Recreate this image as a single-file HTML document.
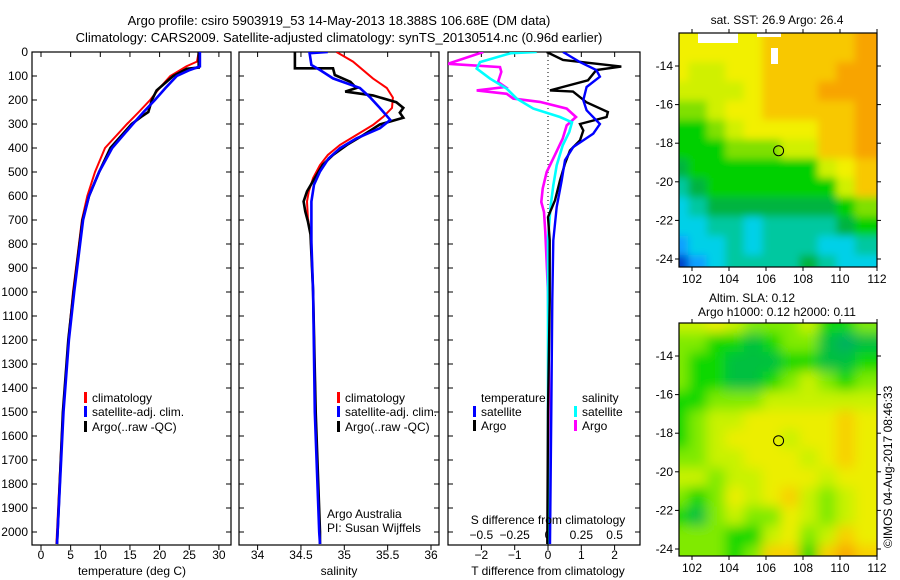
<!DOCTYPE html>
<html><head><meta charset="utf-8"><style>
body{margin:0;background:#fff;}
svg{display:block;font-family:"Liberation Sans",sans-serif;}
text{font-size:12px;fill:#000;}
</style></head><body>
<svg id="c" width="900" height="580" viewBox="0 0 900 580">
<defs>
<clipPath id="cp1"><rect x="32" y="52" width="199" height="493"/></clipPath>
<clipPath id="cp2"><rect x="239" y="52" width="200" height="493"/></clipPath>
<clipPath id="cp3"><rect x="448" y="52" width="192" height="493"/></clipPath>
<clipPath id="cm1"><rect x="679" y="33" width="198" height="234"/></clipPath>
<clipPath id="cm2"><rect x="679" y="323" width="198" height="233"/></clipPath>
<filter id="bl" x="-10%" y="-10%" width="120%" height="120%"><feGaussianBlur stdDeviation="6"/></filter>
<filter id="bl2" x="-10%" y="-10%" width="120%" height="120%"><feGaussianBlur stdDeviation="4"/></filter>
</defs>
<text x="339" y="25" text-anchor="middle" style="font-size:13px">Argo profile: csiro 5903919_53 14-May-2013 18.388S 106.68E (DM data)</text>
<text x="339" y="42" text-anchor="middle" style="font-size:13px">Climatology: CARS2009. Satellite-adjusted climatology: synTS_20130514.nc (0.96d earlier)</text>
<g id="g1"></g>
<g id="g2"></g>
<g id="g3"></g>
<g id="m1"></g>
<g id="m2"></g>
<text x="339" y="575" text-anchor="middle">salinity</text>
<text x="132" y="575" text-anchor="middle">temperature (deg C)</text>
<text x="548" y="575" text-anchor="middle">T difference from climatology</text>
<text x="548" y="524" text-anchor="middle">S difference from climatology</text>
<text x="777" y="24" text-anchor="middle">sat. SST: 26.9 Argo: 26.4</text>
<text x="752" y="302" text-anchor="middle">Altim. SLA: 0.12</text>
<text x="777" y="316" text-anchor="middle">Argo h1000: 0.12 h2000: 0.11</text>
<text transform="translate(892,548) rotate(-90)">©IMOS 04-Aug-2017 08:46:33</text>
<text x="327" y="518">Argo Australia</text>
<text x="327" y="532">PI: Susan Wijffels</text>
</svg>
<script>
// ---- data ----
const depthTicks=[0,100,200,300,400,500,600,700,800,900,1000,1100,1200,1300,1400,1500,1600,1700,1800,1900,2000];
const tTicks=[0,5,10,15,20,25,30];
const sTicks=[34,34.5,35,35.5,36];
const sTickLabels=["34","34.5","35","35.5","36"];
const tdTicks=[-2,-1,0,1,2];
const sdTicks=[-0.5,-0.25,0,0.25,0.5];
const sdTickLabels=["\u22120.5","\u22120.25","0","0.25","0.5"];
const tdTickLabels=["\u22122","\u22121","0","1","2"];

const tClimD=[0,40,60,75,100,150,200,250,300,400,500,600,700,800,1000,1200,1500,2000,2050];
const tClim=[26.6,26.3,24.5,23.5,21.8,20,18.4,16.5,14.5,10.8,9.1,7.8,6.9,6.4,5.4,4.6,3.7,2.7,2.6];
const tSatD=[0,40,60,75,100,150,200,250,300,400,500,600,700,800,1000,1200,1500,2000,2050];
const tSat=[26.8,26.8,26.8,25.1,22.9,21,19.2,17.3,15.5,12,9.8,8.1,7.1,6.6,5.6,4.7,3.8,2.8,2.7];
const tArgoD=[0,65,70,100,160,170,200,250,270,300,400,500,600,700,800,1000,1200,1500,2000,2050];
const tArgo=[26.6,26.6,24.6,22.3,19.5,19.3,18.7,18.1,16.9,15.3,11.7,9.8,8.1,7.0,6.5,5.5,4.6,3.7,2.8,2.7];

const sClimD=[0,40,110,150,190,233,270,304,346,387,429,471,525,581,623,692,762,1000,1500,2000,2050];
const sClim=[34.91,35.10,35.33,35.49,35.56,35.55,35.45,35.33,35.14,34.95,34.81,34.72,34.64,34.59,34.57,34.58,34.61,34.64,34.67,34.71,34.72];
const sSatD=[0,5,54,75,110,150,190,233,283,318,360,401,443,498,553,623,692,790,1000,1500,2000,2050];
const sSat=[34.81,34.6,34.62,34.72,34.87,35.18,35.3,35.41,35.53,35.41,35.14,34.95,34.82,34.72,34.65,34.62,34.62,34.62,34.64,34.66,34.71,34.72];
const sArgoD=[0,68,68,96,124,150,165,181,209,233,253,274,302,346,387,429,471,525,581,623,665,706,760,1000,1500,2000,2050];
const sArgo=[34.43,34.43,34.87,34.89,35.07,35.14,35.01,35.33,35.6,35.68,35.64,35.68,35.41,35.22,35.03,34.87,34.75,34.66,34.57,34.53,34.55,34.58,34.61,34.64,34.67,34.72,34.72];

const dTArgoD=[0,33,61,75,118,160,165,210,250,271,300,327,368,410,465,535,618,688,785,1035,1500,2050];
const dTArgo=[-0.04,0.45,2.2,1.45,1.2,0.06,0.75,1.16,1.8,1.76,0.96,1.06,0.96,0.66,0.51,0.36,0.21,0,0.05,0.05,0.0,-0.02];
const dTSatD=[0,42,75,103,146,201,243,300,340,396,451,535,646,785,1035,1500,2050];
const dTSat=[0.45,0.96,1.45,1.56,1.16,1.06,1.16,1.56,1.36,0.76,0.51,0.41,0.26,0.16,0.13,0.1,0.06];
const dSArgoD=[0,49,63,83,125,146,160,174,194,208,236,271,306,361,431,500,569,625,667,750,1000,1500,2050];
const dSArgo=[-0.485,-0.75,-0.36,-0.35,-0.375,-0.32,-0.535,-0.31,-0.26,-0.06,0.14,0.21,0.14,0.11,0.05,-0.01,-0.04,-0.05,-0.03,-0.02,0,0.01,0.01];
const dSSatD=[0,5,42,69,111,153,194,236,271,293,333,389,472,556,640,778,1000,2050];
const dSSat=[-0.085,-0.28,-0.51,-0.535,-0.435,-0.31,-0.235,-0.11,0.09,0.18,0.16,0.11,0.065,0.04,0.02,0,0,0];

const mapLons=[101,102,103,104,105,106,107,108,109,110,111];
const mapLats=[12,13,14,15,16,17,18,19,20,21,22,23,24];
const sstGrid=[
[8,8,8,8,8,9,9,9,9,9,10],
[8,8,8,8,8,9,9,9,9,9,10],
[8,7,7,8,8,9,9,9,9,10,10],
[7,7,7,7,8,9,9,9,10,10,10],
[6,6,7,8,8,9,9,9,9,9,10],
[5,5,6,7,8,8,8,8,9,9,10],
[5,5,5,6,6,6,7,7,9,9,10],
[4,5,5,5,5,5,5,5,7,8,9],
[3,4,5,5,5,5,5,5,5,7,9],
[2,3,4,4,4,4,4,4,4,5,6],
[2,2,3,3,2,3,3,3,3,4,5],
[1,2,2,3,2,3,3,3,2,2,3],
[0,1,2,3,3,3,3,4,3,2,2]];
const slaGrid=[
[7,7,8,7,6,6,6,7,5,5,6],
[6,6,5,5,4,5,6,6,4,3,4],
[6,5,5,4,4,4,5,5,4,4,5],
[6,5,5,4,4,5,6,7,6,5,6],
[5,5,6,6,6,7,7,7,7,7,7],
[5,6,7,7,8,8,8,8,8,9,8],
[5,6,7,8,8,8,7,8,8,9,8],
[6,6,7,7,8,8,8,7,8,9,8],
[7,7,6,7,7,8,8,8,7,8,8],
[6,5,6,8,7,8,9,7,6,7,8],
[5,4,6,7,6,6,8,7,6,7,8],
[6,6,6,5,5,7,8,6,7,9,8],
[6,6,6,5,6,9,9,5,9,10,9]];
const mapLonTicks=[102,104,106,108,110,112];
const mapLatTicks=[14,16,18,20,22,24];
const argoLon=106.68, argoLat=18.388;

// ---- scales ----
const NS="http://www.w3.org/2000/svg";
const yD=d=>52+d*0.24;
const xT=t=>41+t*5.93;
const xS=s=>257.6+(s-34)*86.7;
const xTd=v=>548+v*33.3;
const xSd=v=>548+v*133.3;
const mx=l=>692+(l-102)*18.5;
const my1=l=>66+(l-14)*19.3;
const my2=l=>356+(l-14)*19.3;
function el(tag,attrs,parent){const e=document.createElementNS(NS,tag);for(const k in attrs)e.setAttribute(k,attrs[k]);parent.appendChild(e);return e;}
function line(p,x1,y1,x2,y2,w){return el('line',{x1,y1,x2,y2,stroke:'#000','stroke-width':w||1},p);}

function frame(g,x0,x1,y0,y1,name){
  const r=el('rect',{x:x0,y:y0,width:x1-x0,height:y1-y0,fill:'none',stroke:'#000','stroke-width':1.2},g);
  
  
  depthTicks.forEach(d=>{line(g,x0,yD(d),x0+5,yD(d));line(g,x1-5,yD(d),x1,yD(d));});
}
function series(g,clip,xs,ds,vals,color,w,name){
  const pts=vals.map((v,i)=>xs(v).toFixed(1)+','+yD(ds[i]).toFixed(1)).join(' ');
  const p=el('polyline',{points:pts,fill:'none',stroke:color,'stroke-width':w,'clip-path':'url(#'+clip+')','stroke-linejoin':'miter'},g);
  
  
}
function label(g,x,y,txt,anchor,name){
  const t=el('text',{x,y,'text-anchor':anchor||'middle'},g);t.textContent=txt;
  
  
}
function legend(g,x,y,color,txt,name){
  el('rect',{x:x,y:y-10,width:3,height:11,fill:color},g);
  label(g,x+8,y,txt,'start',name);
}

// panel 1
const g1=document.getElementById('g1');
frame(g1,32,231,52,545,'temperature-plot-frame');
depthTicks.forEach(d=>label(g1,28,yD(d)+4,String(d),'end','depth-tick-label'));
tTicks.forEach(t=>{line(g1,xT(t),545,xT(t),550);line(g1,xT(t),52,xT(t),57);label(g1,xT(t),559,String(t),'middle','temperature-tick-label');});
series(g1,'cp1',xT,tClimD,tClim,'#f00',2,'temperature-climatology-line');
series(g1,'cp1',xT,tArgoD,tArgo,'#000',2.6,'temperature-argo-line');
series(g1,'cp1',xT,tSatD,tSat,'#00f',2.6,'temperature-satellite-line');
legend(g1,84,402,'#f00','climatology','legend-climatology');
legend(g1,84,416,'#00f','satellite-adj. clim.','legend-satellite');
legend(g1,84,431,'#000','Argo(..raw -QC)','legend-argo');

// panel 2
const g2=document.getElementById('g2');
frame(g2,239,439,52,545,'salinity-plot-frame');
sTicks.forEach((s,i)=>{line(g2,xS(s),545,xS(s),550);line(g2,xS(s),52,xS(s),57);label(g2,xS(s),559,sTickLabels[i],'middle','salinity-tick-label');});
series(g2,'cp2',xS,sClimD,sClim,'#f00',2,'salinity-climatology-line');
series(g2,'cp2',xS,sArgoD,sArgo,'#000',2.6,'salinity-argo-line');
series(g2,'cp2',xS,sSatD,sSat,'#00f',2.6,'salinity-satellite-line');
legend(g2,337,402,'#f00','climatology','legend-climatology-2');
legend(g2,337,416,'#00f','satellite-adj. clim.','legend-satellite-2');
legend(g2,337,431,'#000','Argo(..raw -QC)','legend-argo-2');

// panel 3
const g3=document.getElementById('g3');
el('rect',{x:448,y:52,width:192,height:493,fill:'none',stroke:'#000','stroke-width':1.2},g3);
depthTicks.forEach(d=>{line(g3,448,yD(d),453,yD(d));line(g3,635,yD(d),640,yD(d));});
tdTicks.forEach((v,i)=>{line(g3,xTd(v),545,xTd(v),550);label(g3,xTd(v),559,tdTickLabels[i],'middle','t-diff-tick-label');});
sdTicks.forEach((v,i)=>{line(g3,xSd(v),52,xSd(v),57);label(g3,xSd(v),539,sdTickLabels[i],'middle','s-diff-tick-label');});
el('line',{x1:548,y1:52,x2:548,y2:545,stroke:'#000','stroke-width':1,'stroke-dasharray':'1,3'},g3);
series(g3,'cp3',xSd,dSArgoD,dSArgo,'#f0f',2.6,'s-diff-argo-line');
series(g3,'cp3',xSd,dSSatD,dSSat,'#0ff',2.6,'s-diff-satellite-line');
series(g3,'cp3',xTd,dTArgoD,dTArgo,'#000',2.4,'t-diff-argo-line');
series(g3,'cp3',xTd,dTSatD,dTSat,'#00f',2.4,'t-diff-satellite-line');
label(g3,481,402,'temperature','start','legend-temperature-heading');
legend(g3,473,416,'#00f','satellite','legend-t-satellite');
legend(g3,473,430,'#000','Argo','legend-t-argo');
label(g3,582,402,'salinity','start','legend-salinity-heading');
legend(g3,574,416,'#0ff','satellite','legend-s-satellite');
legend(g3,574,430,'#f0f','Argo','legend-s-argo');

// maps
const sstCols=['#0044cc','#0aa0ff','#00d0e8','#00c8a0','#00b440','#00d000','#80e000','#d0f000','#f2f000','#f8c800','#f8a400'];
const slaCols=['#00a070','#00a070','#00a070','#00b060','#00c040','#10d800','#80ea00','#c8f200','#ecee00','#f8d000','#f8a800'];
function drawMap(id,clip,grid,cols,my,y0,y1,name,white){
  const g=document.getElementById(id);
  const inner=el('g',{'clip-path':'url(#'+clip+')'},g);
  const cells=el('g',{filter:id==='m1'?'url(#bl2)':'url(#bl)'},inner);
  const nr=grid.length, nc=grid[0].length;
  grid.forEach((row,r)=>row.forEach((v,c)=>{
    let x=mx(mapLons[c]-0.2), y=my(mapLats[r]-0.2), w=19.5, h=20.3;
    if(c===0){x-=20;w+=20;} if(c===nc-1){w+=20;}
    if(r===0){y-=20;h+=20;} if(r===nr-1){h+=20;}
    const rc=el('rect',{x:x.toFixed(1),y:y.toFixed(1),width:w,height:h,fill:cols[v]},cells);
    
    
  }));
  if(white){el('rect',{x:698,y:33,width:40,height:10,fill:'#fff'},inner);el('rect',{x:757,y:33,width:24,height:4,fill:'#fff'},inner);el('rect',{x:771,y:48,width:7,height:16,fill:'#fff'},inner);}
  el('rect',{x:679,y:y0,width:198,height:y1-y0,fill:'none',stroke:'#000','stroke-width':1.2},g);
  mapLonTicks.forEach(l=>{line(g,mx(l),y1,mx(l),y1+4);line(g,mx(l),y0-4,mx(l),y0);label(g,mx(l),y1+16,String(l),'middle','lon-tick-label');});
  mapLatTicks.forEach(l=>{line(g,675,my(l),679,my(l));line(g,877,my(l),881,my(l));label(g,673,my(l)+4,'-'+l,'end','lat-tick-label');});
  const c=el('circle',{cx:mx(argoLon),cy:my(argoLat),r:5,fill:'none',stroke:'#000','stroke-width':1},g);
  
  
}
drawMap('m1','cm1',sstGrid,sstCols,my1,33,267,'sst',true);
drawMap('m2','cm2',slaGrid,slaCols,my2,323,556,'sla',false);
</script>
</body></html>
